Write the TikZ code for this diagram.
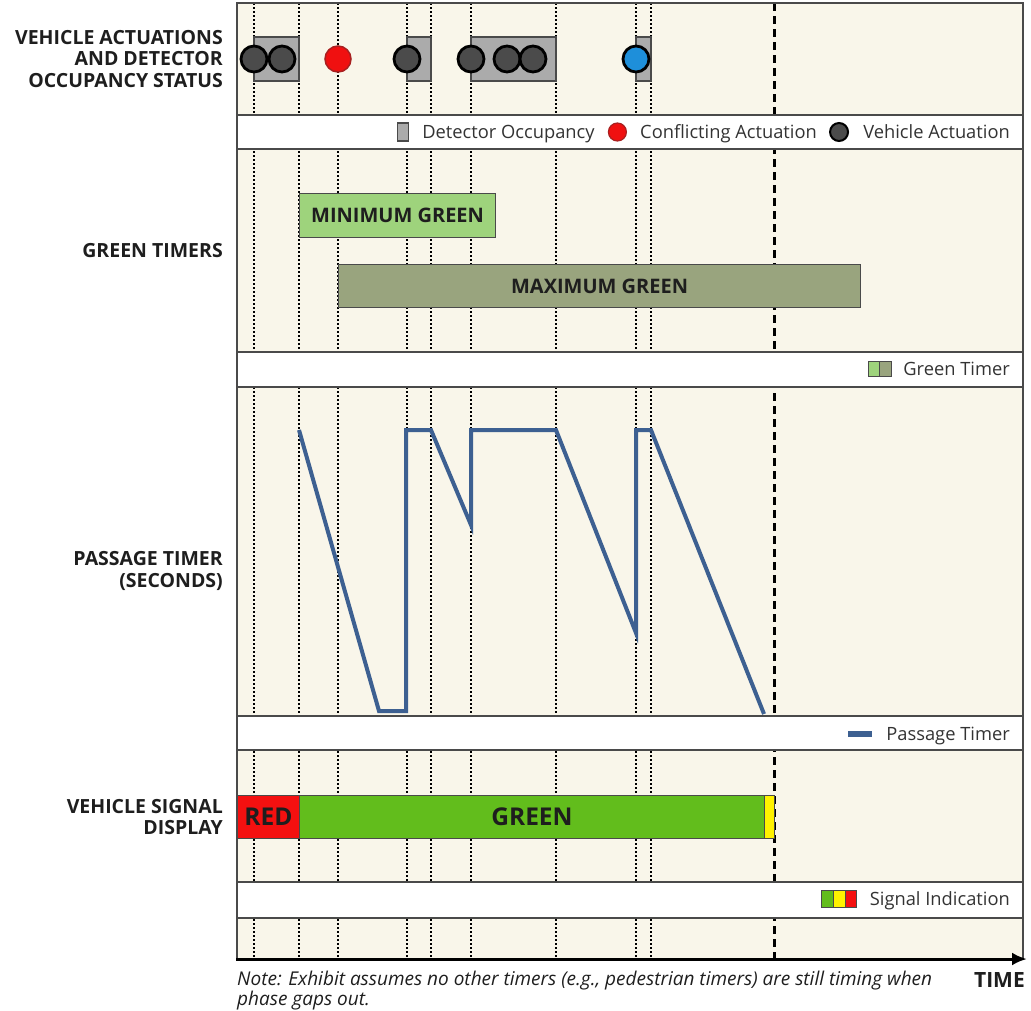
\documentclass[tikz,border=0pt]{standalone}
\usepackage{fontspec}
\setmainfont{Open Sans}
\usetikzlibrary{arrows.meta,positioning}

\definecolor{panelbg}{HTML}{F9F6EA}
\definecolor{framegray}{HTML}{4A4A4A}
\definecolor{occgray}{HTML}{ABABAB}
\definecolor{vehdark}{HTML}{4B4B4B}
\definecolor{conflred}{HTML}{F01010}
\definecolor{conflrim}{HTML}{A82020}
\definecolor{pedblue}{HTML}{1E8FDA}
\definecolor{mingreen}{HTML}{9ED37C}
\definecolor{maxgreen}{HTML}{99A47E}
\definecolor{passblue}{HTML}{3D6091}
\definecolor{sigred}{HTML}{F41010}
\definecolor{siggreen}{HTML}{62BD1C}
\definecolor{sigyellow}{HTML}{FFF200}
\definecolor{textdark}{HTML}{1E1E1E}
\definecolor{legtextc}{HTML}{333333}

\tikzset{
  gridline/.style={black, line width=2pt, dash pattern=on 2pt off 2pt},
  gapline/.style={black, line width=3pt, dash pattern=on 8pt off 5pt},
  band/.style={fill=white, draw=framegray, line width=1.3pt},
  frame/.style={draw=framegray, line width=1.3pt},
  timeaxis/.style={black, line width=3pt, -{Latex[length=15pt,width=13pt]}},
  rowlabel/.style={anchor=east, align=right, inner sep=0pt, text=textdark,
    font=\bfseries\fontsize{19.5}{21.5}\selectfont},
  occbox/.style={fill=occgray, draw=framegray, line width=1.2pt},
  vehdot/.style={circle, fill=vehdark, draw=black, line width=2.8pt,
    minimum size=26pt, inner sep=0pt},
  confldot/.style={circle, fill=conflred, draw=conflrim, line width=1.5pt,
    minimum size=26pt, inner sep=0pt},
  peddot/.style={circle, fill=pedblue, draw=black, line width=2.8pt,
    minimum size=26pt, inner sep=0pt},
  timerbar/.style={draw=framegray, line width=1.2pt, inner sep=0pt,
    text=textdark, font=\bfseries\fontsize{20}{22}\selectfont},
  sigbar/.style={draw=framegray, line width=1pt},
  siglabel/.style={text=textdark, font=\bfseries\fontsize{24.5}{26}\selectfont},
  passline/.style={passblue, line width=4pt, line join=miter},
  legtext/.style={inner sep=0pt, text=legtextc, text height=13pt, text depth=0pt,
    font=\fontsize{18.3}{20}\selectfont},
  legvehdot/.style={circle, fill=vehdark, draw=black, line width=2pt,
    minimum size=18pt, inner sep=0pt},
  legconfdot/.style={circle, fill=conflred, draw=conflrim, line width=1.2pt,
    minimum size=18pt, inner sep=0pt},
  legswatch/.style={draw=framegray, line width=1pt},
}

\begin{document}
\begin{tikzpicture}[x=1pt,y=-1pt]
\useasboundingbox (0,0) rectangle (1031,1010);

% chart area
\fill[panelbg] (237,3) rectangle (1023,959);

% event instants
\foreach \x in {254,299,338,407,431,471,556,636,651}
  \draw[gridline] (\x,3) -- (\x,959);
% gap-out instant
\draw[gapline] (774,3) -- (774,959);

% legend strips
\foreach \a/\b in {115/149, 352/387, 716/750, 882/918}
  \draw[band] (237,\a) rectangle (1023,\b);

% frame and time axis
\draw[frame] (237,959) -- (237,3) -- (1023,3) -- (1023,959);
\draw[timeaxis] (236,959) -- (1027,959);

% row labels
\node[rowlabel] (lblact) at (223,59) {VEHICLE ACTUATIONS\\AND DETECTOR\\OCCUPANCY STATUS};
\node[rowlabel] (lblgreen) at (223,251) {GREEN TIMERS};
\node[rowlabel] (lblpass) at (223,571) {PASSAGE TIMER\\(SECONDS)};
\node[rowlabel] (lblsig) at (223,817) {VEHICLE SIGNAL\\DISPLAY};

% detector occupancy
\draw[occbox] (254,37) rectangle (299,81);
\draw[occbox] (407,37) rectangle (431,81);
\draw[occbox] (471,37) rectangle (556,81);
\draw[occbox] (636,37) rectangle (651,81);

% actuations
\node[vehdot] (v1) at (254,59) {};
\node[vehdot] (v2) at (282,59) {};
\node[confldot] (c1) at (338,59) {};
\node[vehdot] (v3) at (407,59) {};
\node[vehdot] (v4) at (471,59) {};
\node[vehdot] (v5) at (507,59) {};
\node[vehdot] (v6) at (533,59) {};
\node[peddot] (p1) at (636,59) {};

% legend: actuations
\node[legtext, anchor=east] (lva) at (1010,132) {Vehicle Actuation};
\node[legvehdot, left=14pt of lva.west] (lvadot) {};
\node[legtext, left=12pt of lvadot.west] (lca) {Conflicting Actuation};
\node[legconfdot, left=13pt of lca.west] (lcadot) {};
\node[legtext, left=13pt of lcadot.west] (ldo) {Detector Occupancy};
\draw[occbox] ([xshift=-25pt,yshift=-9pt]ldo.west) rectangle ([xshift=-14pt,yshift=9pt]ldo.west);

% green timers
\node[timerbar, fill=mingreen, minimum width=196pt, minimum height=44pt, anchor=north west]
  (ming) at (299,193) {MINIMUM GREEN};
\node[timerbar, fill=maxgreen, minimum width=522pt, minimum height=43pt, anchor=north west]
  (maxg) at (338,264) {MAXIMUM GREEN};

% legend: green timer
\node[legtext, anchor=east] (lgt) at (1010,369) {Green Timer};
\draw[legswatch, fill=mingreen] ([xshift=-35pt,yshift=-7.5pt]lgt.west) rectangle ([xshift=-23.5pt,yshift=7.5pt]lgt.west);
\draw[legswatch, fill=maxgreen] ([xshift=-23.5pt,yshift=-7.5pt]lgt.west) rectangle ([xshift=-12pt,yshift=7.5pt]lgt.west);

% passage timer trace
\draw[passline] (299,430) -- (379,711) -- (406,711) -- (406,430) -- (431,430)
  -- (471,525) -- (471,430) -- (556,430) -- (636,633) -- (636,430) -- (651,430)
  -- (764,714);

% legend: passage timer
\node[legtext, anchor=east] (lpt) at (1010,734) {Passage Timer};
\fill[passblue] ([xshift=-38pt,yshift=-3pt]lpt.west) rectangle ([xshift=-14pt,yshift=3pt]lpt.west);

% signal display
\node[sigbar, siglabel, fill=sigred, minimum width=62pt, minimum height=43pt, anchor=north west, inner sep=0pt]
  (sred) at (237,795) {RED};
\node[sigbar, siglabel, fill=siggreen, minimum width=465pt, minimum height=43pt, anchor=north west, inner sep=0pt]
  (sgreen) at (299,795) {GREEN};
\node[sigbar, fill=sigyellow, minimum width=10pt, minimum height=43pt, anchor=north west, inner sep=0pt]
  (syellow) at (764,795) {};

% legend: signal indication
\node[legtext, anchor=east] (lsi) at (1010,899) {Signal Indication};
\draw[legswatch, fill=siggreen] ([xshift=-48pt,yshift=-8.5pt]lsi.west) rectangle ([xshift=-36.3pt,yshift=8.5pt]lsi.west);
\draw[legswatch, fill=sigyellow] ([xshift=-36.3pt,yshift=-8.5pt]lsi.west) rectangle ([xshift=-24.6pt,yshift=8.5pt]lsi.west);
\draw[legswatch, fill=sigred] ([xshift=-24.6pt,yshift=-8.5pt]lsi.west) rectangle ([xshift=-13pt,yshift=8.5pt]lsi.west);

% footnote and axis title
\node[anchor=north west, align=left, inner sep=0pt, text=textdark,
  font=\itshape\fontsize{19}{18}\selectfont] (note) at (237,971)
  {Note: Exhibit assumes no other timers (e.g., pedestrian timers) are still timing when\\phase gaps out.};
\node[anchor=north east, inner sep=0pt, text=textdark,
  font=\bfseries\fontsize{21}{22}\selectfont] (timelbl) at (1025,972) {TIME};
\end{tikzpicture}
\end{document}
